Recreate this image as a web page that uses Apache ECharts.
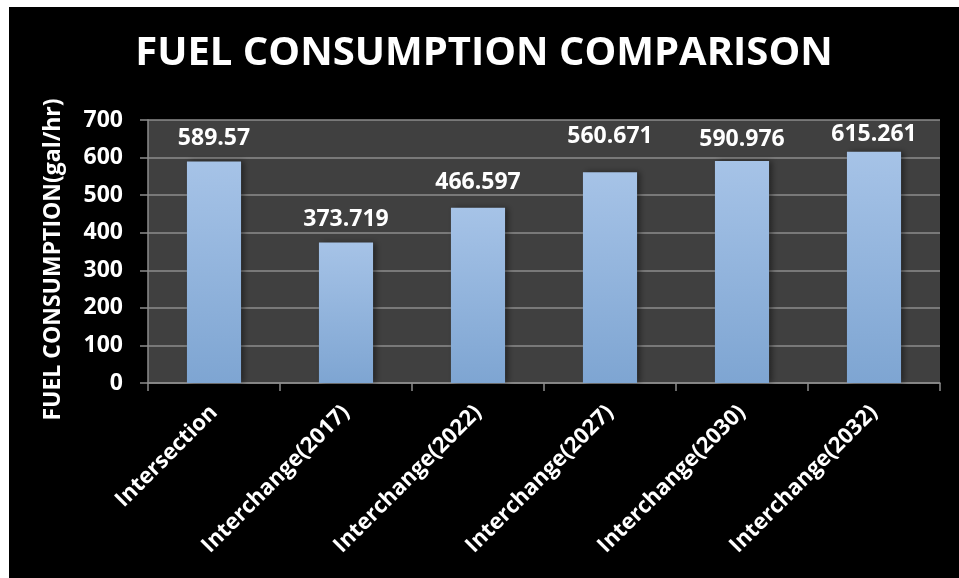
<!DOCTYPE html>
<html>
<head>
<meta charset="utf-8">
<script src="https://cdn.jsdelivr.net/npm/echarts@6/dist/echarts.min.js"></script>
<style>
  html, body { margin: 0; padding: 0; background: #ffffff; width: 959px; height: 578px; overflow: hidden; }
  #chart { position: absolute; left: 9px; top: 7px; width: 950px; height: 571px; }
</style>
</head>
<body>
<div id="chart"></div>
<script>
// Fuel consumption per scenario (gal/hr)
const categories = ['Intersection', 'Interchange(2017)', 'Interchange(2022)', 'Interchange(2027)', 'Interchange(2030)', 'Interchange(2032)'];
const fuelConsumption = [589.57, 373.719, 466.597, 560.671, 590.976, 615.261];
const valueLabels = ['589.57', '373.719', '466.597', '560.671', '590.976', '615.261'];
const yTicks = { min: 0, max: 700, interval: 100 };

// extra lift (px) for each value label above its bar
const labelLift = [0, 0, 2, 12, -2, -6];

const FONT = '"Open Sans", Lato, sans-serif';
const chart = echarts.init(document.getElementById('chart'), null, { renderer: 'canvas' });

const barData = fuelConsumption.map((v, i) => ({
  value: v,
  label: { offset: [0, -labelLift[i]] }
}));

chart.setOption({
  backgroundColor: '#000000',
  animation: false,
  title: {
    text: 'FUEL CONSUMPTION COMPARISON',
    left: 'center',
    top: 22,
    textStyle: { color: '#ffffff', fontFamily: FONT, fontWeight: 'bold', fontSize: 40 }
  },
  grid: {
    left: 139, right: 19, top: 113, bottom: 195,
    show: true, backgroundColor: '#404040', borderWidth: 0
  },
  xAxis: {
    type: 'category',
    data: categories,
    axisLine: { show: true, lineStyle: { color: '#8c8c8c', width: 1.5 } },
    axisTick: { show: true, alignWithLabel: false, length: 8, lineStyle: { color: '#8c8c8c', width: 1.5 } },
    axisLabel: {
      rotate: 45, margin: 26, interval: 0,
      color: '#ffffff', fontFamily: FONT, fontWeight: 'bold', fontSize: 22
    }
  },
  yAxis: {
    type: 'value',
    min: yTicks.min, max: yTicks.max, interval: yTicks.interval,
    name: 'FUEL CONSUMPTION(gal/hr)',
    nameLocation: 'middle',
    nameRotate: 90,
    nameGap: 83,
    nameTextStyle: { color: '#ffffff', fontFamily: FONT, fontWeight: 'bold', fontSize: 23, padding: [0, 16, 0, 0] },
    axisLine: { show: true, lineStyle: { color: '#8c8c8c', width: 1.5 } },
    axisTick: { show: true, length: 8, lineStyle: { color: '#8c8c8c', width: 1.5 } },
    axisLabel: { margin: 25, color: '#ffffff', fontFamily: FONT, fontWeight: 'bold', fontSize: 23 },
    splitLine: { show: true, lineStyle: { color: '#8c8c8c', width: 1.5 } }
  },
  series: [{
    type: 'bar',
    data: barData,
    barWidth: '41%',
    itemStyle: {
      color: new echarts.graphic.LinearGradient(0, 0, 0, 1, [
        { offset: 0, color: '#a6c3e7' },
        { offset: 1, color: '#7ea5d2' }
      ]),
      shadowColor: 'rgba(0,0,0,0.45)',
      shadowBlur: 6,
      shadowOffsetX: 3,
      shadowOffsetY: 0
    },
    label: {
      show: true,
      position: 'top',
      distance: 12,
      color: '#ffffff',
      fontFamily: FONT,
      fontWeight: 'bold',
      fontSize: 23,
      formatter: p => valueLabels[p.dataIndex]
    }
  }]
});
</script>
</body>
</html>
